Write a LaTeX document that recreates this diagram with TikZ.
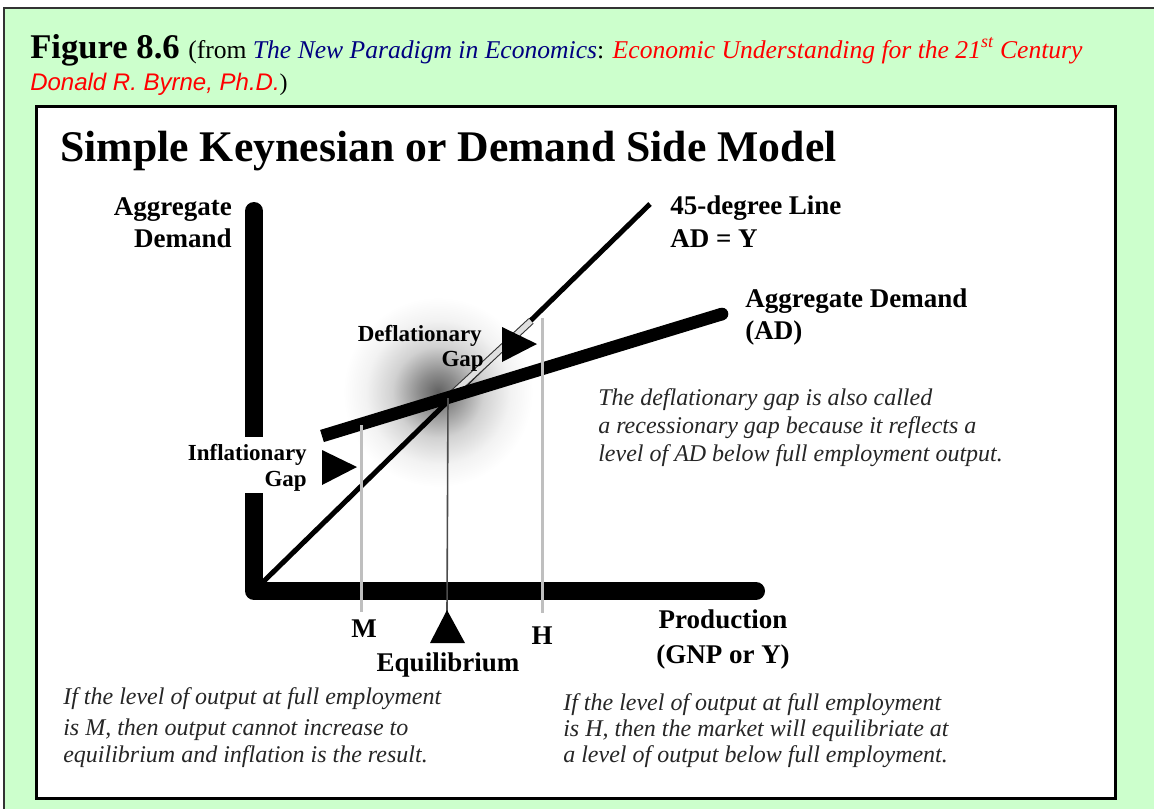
\documentclass[tikz,border=0pt]{standalone}
\usepackage{fontspec}
\setmainfont{Liberation Serif}
\newfontfamily\arialfont{Liberation Sans}
\definecolor{panelgreen}{HTML}{CCFFCC}
\definecolor{booknavy}{HTML}{000080}
\definecolor{authorred}{HTML}{FF0000}
% soft glow around the equilibrium point
\pgfdeclareradialshading{eqglow}{\pgfpoint{0bp}{0bp}}{color(0bp)=(black!62); color(5bp)=(black!45); color(12bp)=(black!18); color(19bp)=(black!5); color(25bp)=(white); color(50bp)=(white)}
\begin{document}
\begin{tikzpicture}[x=0.75pt,y=-0.75pt,
  lbl/.style={inner sep=0pt, font=\bfseries\fontsize{20.25pt}{24pt}\selectfont},
  gaplbl/.style={inner sep=0pt, font=\bfseries\fontsize{17.25pt}{21pt}\selectfont},
  note/.style={inner sep=0pt, anchor=base west, text=black!85, font=\itshape\fontsize{18pt}{22pt}\selectfont},
  axisline/.style={line width=13.5pt, line cap=round, line join=round},
  guide/.style={gray!50, line width=2.25pt},
  gaptri/.style={fill=black}]
\useasboundingbox (0,0) rectangle (1154,808);
\clip (0,0) rectangle (1154,808);
% page and framed panel
\fill[white] (0,0) rectangle (1154,808);
\filldraw[fill=panelgreen, draw=black!80, line width=1.5pt] (4,8) rectangle (1170,830);
\filldraw[fill=white, draw=black, line width=2.25pt] (36,106) rectangle (1115,798);

% caption
\node[anchor=base west, inner sep=0pt] (fig) at (30,58) {\fontsize{26pt}{30pt}\selectfont\bfseries Figure 8.6};
\node[anchor=base west, inner sep=0pt] (src) at (188,58) {\fontsize{19.2pt}{24pt}\selectfont (from \textcolor{booknavy}{\itshape The New Paradigm in Economics}: \textcolor{authorred}{\itshape Economic Understanding for the 21\textsuperscript{st} Century}};
\node[anchor=base west, inner sep=0pt] (author) at (30,90) {\fontsize{18pt}{22pt}\selectfont\textcolor{authorred}{\arialfont\itshape Donald R. Byrne, Ph.D.})};

% heading
\node[anchor=base west, inner sep=0pt] (head) at (60,161) {\fontsize{32.8pt}{38pt}\selectfont\bfseries Simple Keynesian or Demand Side Model};

% glow behind the crossing
\shade[shading=eqglow] (438,392) circle (95);

% key points
\coordinate (O) at (263,582);
\coordinate (T) at (650,204);
\coordinate (E) at (448,398);
\coordinate (G) at (531,321);
\coordinate (ADl) at (322,436);
\coordinate (ADr) at (722,314);

% axes
\draw[axisline] (254,211) -- (254,591) -- (756,591);

% 45-degree line with the pale gap segment
\draw[black, line width=3.75pt] (O) -- (T);
\draw[black!80, line width=5.6pt] (E) -- (G);
\draw[gray!25, line width=4pt] (E) -- (G);

% aggregate demand line
\draw[black, line width=9.5pt, line cap=butt] (ADl) -- (ADr);
\fill[black] (ADr) circle (6.3);

% drop lines to the output axis
\draw[guide] (361,425) -- (361,612);
\draw[guide] (542,318) -- (542,613);
\draw[black!70, line width=1.2pt] (E) -- (447,612);

% gap and equilibrium markers
\fill[gaptri] (322,450) -- (357,467) -- (322,485) -- cycle;
\fill[gaptri] (502,327) -- (537,344) -- (502,362) -- cycle;
\fill[gaptri] (447,610) -- (465,643) -- (430,643) -- cycle;

% axis labels
\node[lbl, anchor=base east] (agg1) at (232,215) {Aggregate};
\node[lbl, anchor=base east] (agg2) at (232,247) {Demand};
\node[lbl, anchor=base west] (deg1) at (670,214) {45-degree Line};
\node[lbl, anchor=base west] (deg2) at (670,247) {AD = Y};
\node[lbl, anchor=base west] (ad1) at (745,307) {Aggregate Demand};
\node[lbl, anchor=base west] (ad2) at (745,339) {(AD)};
\node[lbl, anchor=base] (prod1) at (723,628) {Production};
\node[lbl, anchor=base] (prod2) at (723,663) {(GNP or Y)};
\node[lbl, anchor=base] (mlbl) at (364,637) {M};
\node[lbl, anchor=base] (hlbl) at (542,644) {H};
\node[lbl, anchor=base] (eqlbl) at (448,671) {Equilibrium};

% gap labels (the inflationary one sits over the demand axis)
\fill[white] (240,437) rectangle (270,493);
\node[gaplbl, anchor=base east] (inf1) at (307,460) {Inflationary};
\node[gaplbl, anchor=base east] (inf2) at (307,486) {Gap};
\node[gaplbl, anchor=base east] (def1) at (482,341) {Deflationary};
\node[gaplbl, anchor=base east] (def2) at (484,366) {Gap};

% explanatory notes
\node[note] (r1) at (598,405) {The deflationary gap is also called};
\node[note] (r2) at (598,433) {a recessionary gap because it reflects a};
\node[note] (r3) at (598,461) {level of AD below full employment output.};
\node[note] (l1) at (63,704) {If the level of output at full employment};
\node[note] (l2) at (63,735) {is M, then output cannot increase to};
\node[note] (l3) at (63,762) {equilibrium and inflation is the result.};
\node[note] (b1) at (563,710) {If the level of output at full employment};
\node[note] (b2) at (563,736) {is H, then the market will equilibriate at};
\node[note] (b3) at (563,762) {a level of output below full employment.};
\end{tikzpicture}
\end{document}
